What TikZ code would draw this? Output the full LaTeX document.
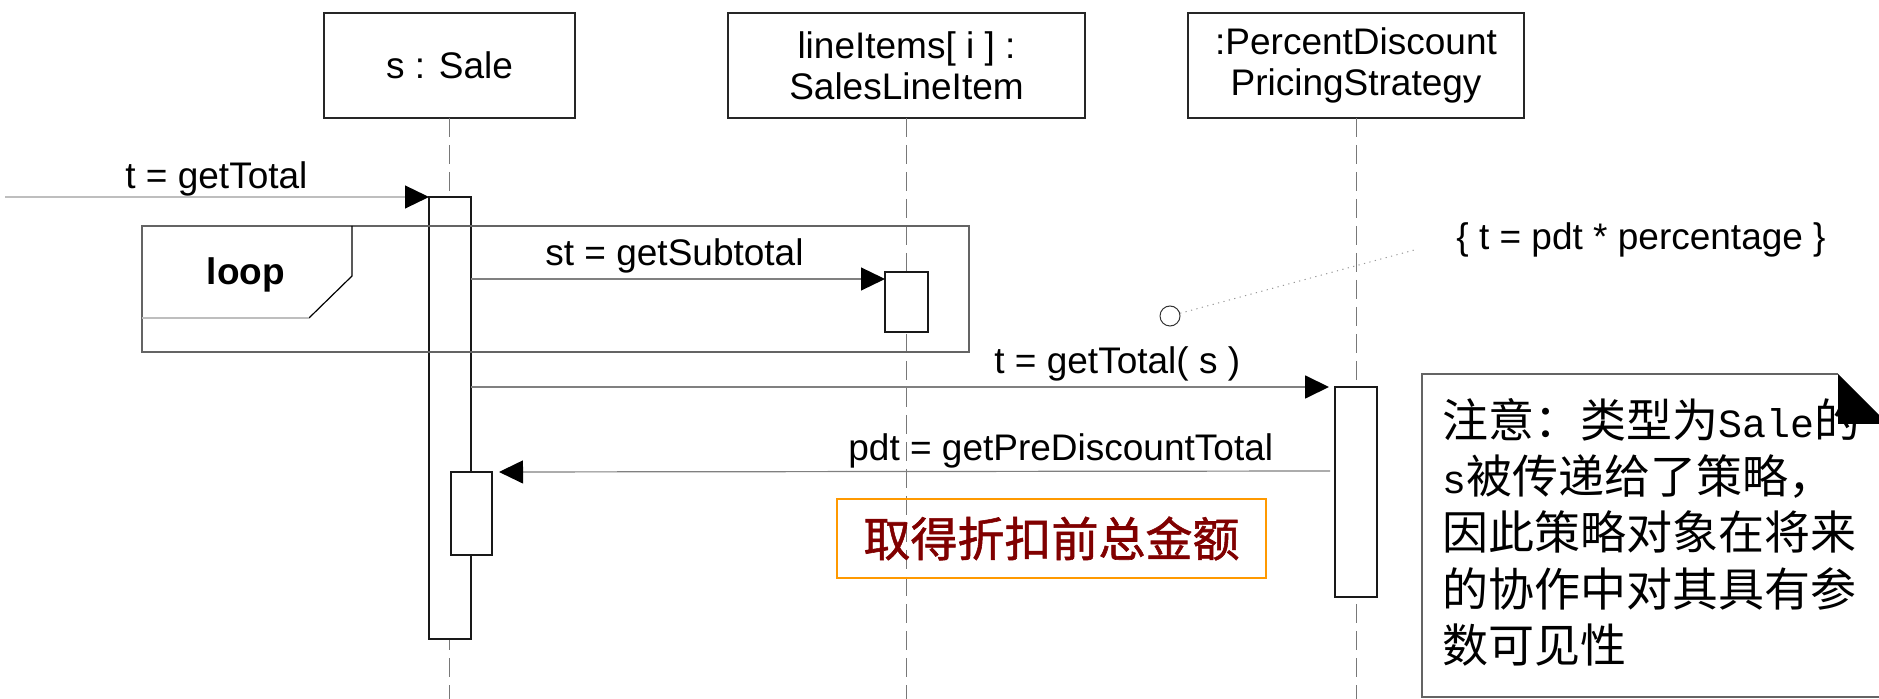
\documentclass[tikz,border=0pt]{standalone}
\usepackage{fontspec}
\setmainfont{Liberation Sans}
\newfontfamily\cjk{Noto Sans CJK SC}
\newfontfamily\cjkheavy{Noto Sans CJK SC}[FakeBold=1.2]
\newfontfamily\notemono{Liberation Mono}
\usetikzlibrary{arrows.meta,calc}
\definecolor{lifegray}{RGB}{120,120,120}
\definecolor{msggray}{RGB}{128,128,128}
\definecolor{lightmsg}{RGB}{190,190,190}
\definecolor{framegray}{RGB}{100,100,100}
\definecolor{notered}{RGB}{128,0,0}
\definecolor{noteorange}{RGB}{255,153,0}

\begin{document}
\begin{tikzpicture}[x=0.5pt,y=-0.5pt,
  objbox/.style={draw=black!85, line width=0.75pt, fill=white, minimum width=#1,
    minimum height=52.5pt, inner sep=0pt, outer sep=0pt, align=center,
    font=\fontsize{18.5}{20.5}\selectfont},
  actbox/.style={draw=black!90, line width=0.6pt, fill=white, inner sep=0pt,
    outer sep=0pt, anchor=north west, minimum width=21pt},
  lifeline/.style={draw=lifegray, line width=0.5pt, dash pattern=on 9.5pt off 4pt},
  msg/.style={draw=msggray, line width=0.6pt,
    -{Triangle[length=12pt,width=11.5pt,color=black]}},
  lbl/.style={inner sep=0pt, anchor=base west, font=\fontsize{18.5}{20.5}\selectfont},
  notecjk/.style={inner sep=0pt, anchor=base west, font=\cjk\fontsize{23}{28}\selectfont},
  notelatin/.style={font=\notemono\fontsize{20}{28}\selectfont},
]
\useasboundingbox (0,0) rectangle (1879,699);
\clip (0,0) rectangle (1879,699);

% reference points
\coordinate (bottom) at (0,699);
\coordinate (m1) at (5,197);
\coordinate (m2) at (0,279);
\coordinate (m3) at (0,387);
\coordinate (m4) at (0,471);

% object heads
\node[objbox=125.5pt] (sale) at (449.5,65.5) {s : Sale};
\node[objbox=178.5pt] (items) at (906.5,65.5) {lineItems[ i ] :\\SalesLineItem};
\node[objbox=168pt] (strat) at (1356,65.5) {:PercentDiscount\\PricingStrategy};

% lifelines
\draw[lifeline] (sale.south) -- (sale.south |- bottom);
\draw[lifeline] (items.south) -- (items.south |- bottom);
\draw[lifeline] (strat.south) -- (strat.south |- bottom);

% activation bars
\node[actbox, minimum height=221pt] (actS) at (429,197) {};
\node[actbox, minimum width=21.5pt, minimum height=30pt] (actI) at (885,272) {};
\node[actbox, minimum height=105pt] (actP) at (1335,387) {};
\node[actbox, minimum width=20.5pt, minimum height=41.5pt] (actS2) at (451,472) {};

% loop fragment
\node[draw=framegray, line width=0.6pt, inner sep=0pt, outer sep=0pt, anchor=north west,
  minimum width=413.5pt, minimum height=63pt] (loopframe) at (142,226) {};
\draw[black, line width=0.6pt] (352,226) -- (352,276) -- (309,318);
\draw[lightmsg, line width=0.6pt] (309,318) -- (142,318);
\node[inner sep=0pt, anchor=base, font=\bfseries\fontsize{18.5}{20}\selectfont] (looplbl) at (246,285) {loop};

% messages
\draw[msg, draw=lightmsg] (m1) -- (actS.north west);
\node[lbl] (l1) at (125,189) {t = getTotal};

\draw[msg] (actS.east |- m2) -- (actI.west |- m2);
\node[lbl] (l2) at (545,266) {st = getSubtotal};

\draw[msg, line width=0.9pt, shorten >=3pt] (actS.east |- m3) -- (actP.north west);
\node[lbl] (l3) at (994,374) {t = getTotal( s )};

\draw[msg, shorten >=3.5pt, shorten <=2.5pt] (actP.west |- m4) -- (actS2.north east);
\node[lbl] (l4) at (848,461) {pdt = getPreDiscountTotal};

% constraint with its anchor line
\node[draw=black!80, circle, line width=0.5pt, minimum size=10pt, inner sep=0pt] (anchorpt) at (1170,316) {};
\coordinate (cend) at (1418,249);
\draw[lightmsg!80!black, line width=0.5pt, dash pattern=on 0.6pt off 2.2pt] (anchorpt) -- (cend);
\node[lbl] (constraint) at (1456,250) {\{ t = pdt * percentage \}};

% highlighted caption
\node[draw=noteorange, line width=1.25pt, minimum width=214.5pt, minimum height=39.5pt,
  inner sep=0pt, text=notered, font=\cjkheavy\fontsize{23.5}{24}\selectfont] (caption)
  at (1051.5,538.5) {取得折扣前总金额};

% note with folded corner
\coordinate (fold) at (1838,374);
\draw[framegray, line width=0.7pt] (fold) -- (1422,374) -- (1422,697) -- (1890,697);
\node[notecjk] (n1) at (1442,438) {注意：类型为{\notemono\fontsize{20}{28}\selectfont Sale}的};
\node[notecjk] (n2) at (1442,494) {{\notemono\fontsize{20}{28}\selectfont s}被传递给了策略，};
\node[notecjk] (n3) at (1442,550) {因此策略对象在将来};
\node[notecjk] (n4) at (1442,606) {的协作中对其具有参};
\node[notecjk] (n5) at (1442,662) {数可见性};
\fill[black] (fold) -- (1888,424) -- (1838,424) -- cycle;
\end{tikzpicture}
\end{document}
